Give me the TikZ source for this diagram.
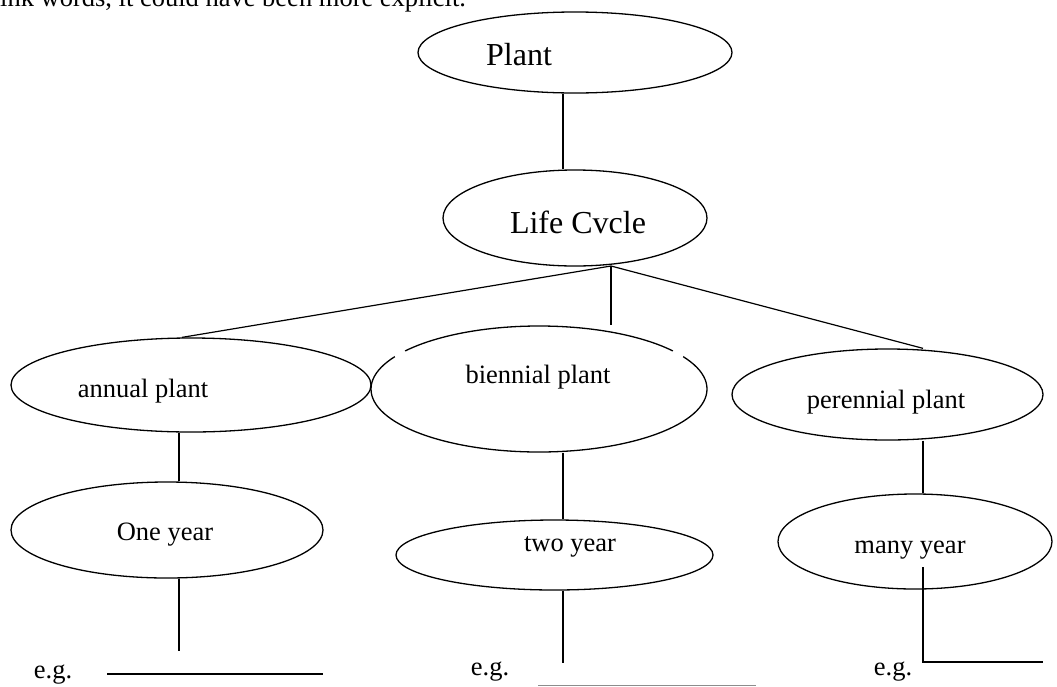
\documentclass[tikz,border=0pt]{standalone}
\usepackage{fontspec}
\setmainfont{Liberation Serif}
\usetikzlibrary{shapes.geometric}
\begin{document}
\begin{tikzpicture}[x=1pt,y=-1pt,
  oval/.style={ellipse, draw, line width=1.3pt, inner sep=0pt},
  link/.style={line width=1.2pt},
  bigtxt/.style={font=\fontsize{32}{36}\selectfont, anchor=base, inner sep=0pt},
  smalltxt/.style={font=\fontsize{26.5}{30}\selectfont, anchor=base, inner sep=0pt},
  blankline/.style={line width=1.3pt},
  greyline/.style={line width=1pt, draw=black!45}]
\useasboundingbox (0,0) rectangle (1057,686);

% running text above the map
\node[smalltxt, anchor=base west] (intro) at (0,6) {ink words, it could have been more explicit.};

% ellipses
\node[oval, minimum width=314pt, minimum height=81pt] (plant) at (575,52.5) {};
\node[oval, minimum width=264pt, minimum height=96pt] (lc) at (575,218) {};
\node[oval, minimum width=360pt, minimum height=94pt] (annual) at (191,385) {};
\node[oval, minimum width=336pt, minimum height=126pt] (bien) at (539,389) {};
\node[oval, minimum width=311pt, minimum height=91pt] (peren) at (887.5,394.5) {};
\node[oval, minimum width=312pt, minimum height=96pt] (one) at (167,530) {};
\node[oval, minimum width=317pt, minimum height=70pt] (two) at (554.5,555) {};
\node[oval, minimum width=274pt, minimum height=95pt] (many) at (915,541.5) {};

% small breaks in the biennial outline
\draw[white, line width=4pt] (395,356.6) -- (405,351);
\draw[white, line width=4pt] (673,351) -- (683,356.6);

% labels
\node[bigtxt] (tPlant) at (519,65) {Plant};
\node[bigtxt] (tLife) at (578,233) {Life Cvcle};
\node[smalltxt] (tAnnual) at (143,397) {annual plant};
\node[smalltxt] (tBien) at (538,383) {biennial plant};
\node[smalltxt] (tPeren) at (886,408) {perennial plant};
\node[smalltxt] (tOne) at (165,540) {One year};
\node[smalltxt] (tTwo) at (570,551) {two year};
\node[smalltxt] (tMany) at (910,553) {many year};
\node[smalltxt] (egA) at (53,678) {e.g.};
\node[smalltxt] (egB) at (490,675) {e.g.};
\node[smalltxt] (egC) at (893,675) {e.g.};

% column guides
\coordinate (colTop) at (563,0);
\coordinate (colA) at (179,0);
\coordinate (colB) at (563,0);
\coordinate (colC) at (923,0);
\coordinate (annTop) at (182,0);
\coordinate (fork) at (611,266);

% connectors
\draw[link] (plant.south -| colTop) -- (lc.north -| colTop);
\draw[link] (fork) -- (annual.north -| annTop);
\draw[link] (fork) -- (bien.north -| fork);
\draw[link] (fork) -- (peren.north -| colC);
\draw[link] (annual.south -| colA) -- (one.north -| colA);
\draw[link] (bien.south -| colB) -- (two.north -| colB);
\draw[link] (peren.south -| colC) -- (many.north -| colC);

% stems down to the example blanks
\coordinate (endA) at (179,651);
\coordinate (endB) at (563,663);
\draw[link] (one.south -| colA) -- (endA);
\draw[link] (two.south -| colB) -- (endB);
\coordinate (mStart) at (923,567);
\coordinate (mEnd) at (1043,662);
\draw[link] (mStart) |- (mEnd);

% blanks to fill in
\coordinate (blankA1) at (107,674);
\coordinate (blankA2) at (323,674);
\draw[blankline] (blankA1) -- (blankA2);
\coordinate (blankB1) at (538,685);
\coordinate (blankB2) at (756,685);
\draw[greyline] (blankB1) -- (blankB2);
\end{tikzpicture}
\end{document}
